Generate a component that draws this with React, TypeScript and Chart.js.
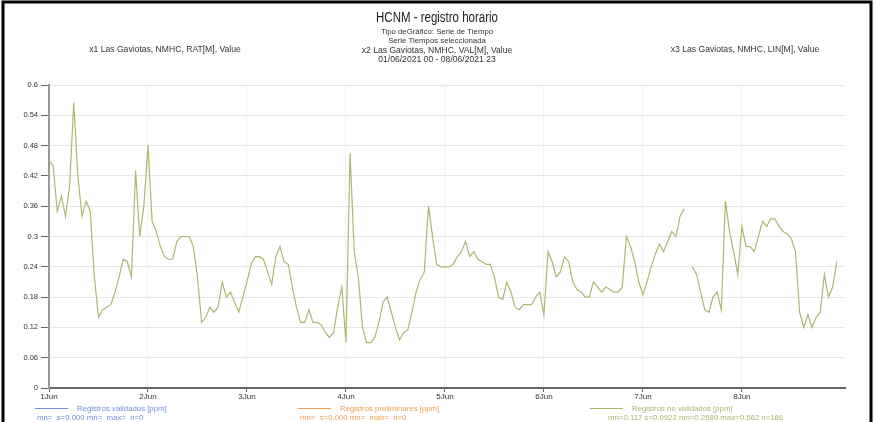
import React, { useEffect, useRef } from "react";
import { Chart, registerables } from "chart.js";

Chart.register(...registerables);

const title = "HCNM - registro horario";
const subtitleLines = [
  "Tipo deGráfico: Serie de Tiempo",
  "Serie Tiempos seleccionada",
  "x2 Las Gaviotas, NMHC, VAL[M], Value",
  "01/06/2021 00 - 08/06/2021 23",
];
const seriesLeft = "x1 Las Gaviotas, NMHC, RAT[M], Value";
const seriesRight = "x3 Las Gaviotas, NMHC, LIN[M], Value";

const dayLabels = ["1Jun", "2Jun", "3Jun", "4Jun", "5Jun", "6Jun", "7Jun", "8Jun"];
const yTickValues = [0, 0.06, 0.12, 0.18, 0.24, 0.3, 0.36, 0.42, 0.48, 0.54, 0.6];

// hourly values, one array per day (null = missing hour)
const day1 = [0.45, 0.44, 0.35, 0.38, 0.34, 0.4, 0.565, 0.42, 0.34, 0.37, 0.35, 0.22, 0.14, 0.155, 0.16, 0.165, 0.19, 0.22, 0.255, 0.25, 0.22, 0.43, 0.3, 0.36];
const day2 = [0.48, 0.33, 0.31, 0.28, 0.26, 0.255, 0.255, 0.29, 0.3, 0.3, 0.3, 0.28, 0.22, 0.13, 0.14, 0.16, 0.15, 0.16, 0.21, 0.18, 0.19, 0.17, 0.15, 0.18];
const day3 = [0.21, 0.245, 0.26, 0.26, 0.255, 0.23, 0.205, 0.26, 0.28, 0.25, 0.245, 0.2, 0.16, 0.13, 0.13, 0.155, 0.13, 0.13, 0.125, 0.11, 0.1, 0.11, 0.16, 0.2];
const day4 = [0.09, 0.465, 0.27, 0.22, 0.12, 0.09, 0.09, 0.1, 0.13, 0.17, 0.18, 0.15, 0.12, 0.095, 0.11, 0.115, 0.15, 0.19, 0.215, 0.23, 0.36, 0.3, 0.245, 0.24];
const day5 = [0.24, 0.24, 0.245, 0.26, 0.27, 0.29, 0.26, 0.27, 0.255, 0.25, 0.245, 0.245, 0.22, 0.18, 0.175, 0.21, 0.19, 0.16, 0.155, 0.165, 0.165, 0.165, 0.18, 0.19];
const day6 = [0.145, 0.27, 0.25, 0.22, 0.23, 0.26, 0.25, 0.21, 0.195, 0.19, 0.18, 0.18, 0.21, 0.2, 0.19, 0.2, 0.195, 0.19, 0.19, 0.2, 0.3, 0.28, 0.25, 0.21];
const day7 = [0.185, 0.21, 0.24, 0.265, 0.285, 0.27, 0.29, 0.31, 0.3, 0.34, 0.355, null, 0.24, 0.225, 0.19, 0.155, 0.15, 0.18, 0.19, 0.155, 0.37, 0.31, 0.27, 0.225];
const day8 = [0.32, 0.28, 0.28, 0.27, 0.3, 0.33, 0.32, 0.335, 0.335, 0.32, 0.31, 0.305, 0.295, 0.27, 0.15, 0.12, 0.145, 0.12, 0.14, 0.15, 0.225, 0.18, 0.2, 0.25];

const legendItems = [
  { label: "Registros validados [ppm]", stats: "mn=  s=0.000 mn=  max=  n=0", color: "#6f8fdc" },
  { label: "Registros preliminares [ppm]", stats: "mn=  s=0.000 mn=  max=  n=0", color: "#f0a050" },
  { label: "Registros no validados [ppm]", stats: "mn=0.117 s=0.0922 mn=0.2689 max=0.562 n=186", color: "#a5b96d" },
];

const LINE_COLOR = "#a8ba72";
const FONT = "'Liberation Sans', Arial, sans-serif";

export default function App() {
  const ref = useRef<HTMLCanvasElement | null>(null);

  useEffect(() => {
    if (!ref.current) return;
    const all = [...day1, ...day2, ...day3, ...day4, ...day5, ...day6, ...day7, ...day8];
    const points = all.map((v, i) => ({ x: i, y: v }));

    const decor = {
      id: "decor",
      beforeDraw(chart: any) {
        const c = chart.ctx;
        c.save();
        c.fillStyle = "#ffffff";
        c.fillRect(0, 0, chart.width, chart.height);
        c.restore();
      },
      afterDraw(chart: any) {
        const c = chart.ctx;
        c.save();
        // frame
        c.strokeStyle = "#000";
        c.lineWidth = 3;
        c.beginPath();
        c.moveTo(3, 430);
        c.lineTo(3, 2);
        c.lineTo(871, 2);
        c.lineTo(871, 430);
        c.stroke();

        c.textAlign = "center";
        c.textBaseline = "alphabetic";
        c.fillStyle = "#222";
        c.font = `14px ${FONT}`;
        c.save();
        c.translate(437, 22);
        c.scale(0.82, 1);
        c.fillText(title, 0, 0);
        c.restore();
        c.fillStyle = "#333";
        subtitleLines.forEach((s, i) => {
          c.font = i < 2 ? `7.8px ${FONT}` : `8.6px ${FONT}`;
          c.fillText(s, 437, 34 + i * 9.3);
        });
        c.font = `8.6px ${FONT}`;
        c.fillText(seriesLeft, 165, 52);
        c.fillText(seriesRight, 745, 52);

        // legend
        const xs = [35, 298, 590];
        legendItems.forEach((it, i) => {
          const x0 = xs[i];
          c.strokeStyle = it.color;
          c.lineWidth = 1;
          c.beginPath();
          c.moveTo(x0, 408.5);
          c.lineTo(x0 + 33, 408.5);
          c.stroke();
          c.fillStyle = it.color;
          c.textAlign = "left";
          c.font = `7.8px ${FONT}`;
          c.fillText(it.label, x0 + 42, 411);
          c.fillText(it.stats, x0 + (i === 2 ? 18 : 2), 420);
        });
        c.restore();
      },
    };

    const chart = new Chart(ref.current, {
      type: "line",
      data: {
        datasets: [
          {
            data: points as any,
            borderColor: LINE_COLOR,
            borderWidth: 1.2,
            pointRadius: 0,
            tension: 0,
            spanGaps: false,
            fill: false,
          },
        ],
      },
      options: {
        animation: false,
        responsive: false,
        devicePixelRatio: 1,
        layout: { padding: { left: 0, right: 29, top: 85, bottom: 0 } },
        plugins: { legend: { display: false }, tooltip: { enabled: false }, title: { display: false } },
        scales: {
          x: {
            type: "linear",
            min: 0,
            max: 193,
            afterBuildTicks: (s: any) => {
              s.ticks = dayLabels.map((_, i) => ({ value: i * 24 }));
            },
            afterFit: (s: any) => {
              s.height = 34;
            },
            ticks: {
              callback: (v: any) => dayLabels[Math.round(Number(v) / 24)] ?? "",
              font: { size: 8, family: FONT },
              color: "#333",
              maxRotation: 0,
              autoSkip: false,
              padding: 0,
            },
            grid: {
              color: "rgba(0,0,0,0.05)",
              tickColor: "#666",
              tickLength: 4,
              drawTicks: true,
            },
            border: { color: "#666", width: 2 },
          },
          y: {
            min: 0,
            max: 0.6,
            afterBuildTicks: (s: any) => {
              s.ticks = yTickValues.map((v) => ({ value: v }));
            },
            afterFit: (s: any) => {
              s.width = 49;
            },
            ticks: {
              callback: (v: any) => String(Number(Number(v).toFixed(2))),
              font: { size: 7.5, family: FONT },
              color: "#333",
              padding: 3,
            },
            grid: {
              color: "#e6e6e6",
              tickColor: "#666",
              tickLength: 8,
            },
            border: { color: "#999", width: 2 },
          },
        },
      },
      plugins: [decor],
    });
    return () => chart.destroy();
  }, []);

  return (
    <div style={{ position: "fixed", left: 0, top: 0, width: 874, height: 422, overflow: "hidden", background: "#fff" }}>
      <canvas ref={ref} width={874} height={422} style={{ display: "block", width: 874, height: 422 }} />
    </div>
  );
}
